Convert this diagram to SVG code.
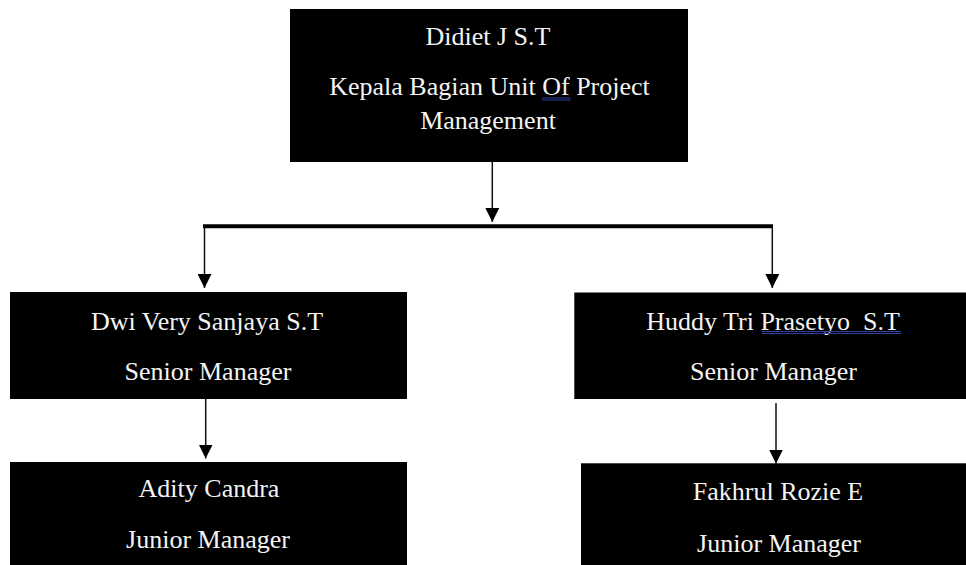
<svg xmlns="http://www.w3.org/2000/svg" width="966" height="565" viewBox="0 0 966 565">
<style>
.box{fill:#000;}
.t{font-family:"Liberation Serif","Times New Roman",serif;font-size:26px;fill:#f4f4f4;text-anchor:middle;}
.ln{stroke:#111;stroke-width:1.5;fill:none;}
.bar{stroke:#000;stroke-width:4;fill:none;}
.ul{stroke:#2f3f9f;stroke-width:1;fill:none;}
</style>
<defs>
<marker id="ah" markerUnits="userSpaceOnUse" markerWidth="14" markerHeight="14" refX="14" refY="7" orient="auto">
<path d="M0,0 L14,7 L0,14 Z" fill="#000"/>
</marker>
</defs>
<rect width="966" height="565" fill="#fff"/>
<g id="connectors">
<line class="ln" x1="492.3" y1="162" x2="492.3" y2="222" marker-end="url(#ah)"/>
<line class="bar" x1="203" y1="226.3" x2="773" y2="226.3"/>
<line class="ln" x1="204.5" y1="226" x2="204.5" y2="288" marker-end="url(#ah)"/>
<line class="ln" x1="772.3" y1="226" x2="772.3" y2="288" marker-end="url(#ah)"/>
<line class="ln" x1="205.7" y1="399" x2="205.7" y2="458.5" marker-end="url(#ah)"/>
<line class="ln" x1="776" y1="403" x2="776" y2="463.5" marker-end="url(#ah)"/>
</g>
<g id="node-didiet">
<rect class="box" x="290" y="9" width="398" height="153"/>
<text class="t" x="488" y="45">Didiet J S.T</text>
<text class="t" x="489.5" y="95">Kepala Bagian Unit Of Project</text>
<line class="ul" x1="541.7" y1="98" x2="570.7" y2="98"/>
<line class="ul" x1="541.7" y1="100" x2="570.7" y2="100"/>
<text class="t" x="488" y="129">Management</text>
</g>
<g id="node-dwi">
<rect class="box" x="10" y="292" width="397" height="107"/>
<text class="t" x="207" y="330">Dwi Very Sanjaya S.T</text>
<text class="t" x="208" y="380">Senior Manager</text>
</g>
<g id="node-huddy">
<rect class="box" x="574.3" y="292.5" width="392" height="106.5"/>
<text class="t" x="773" y="330" xml:space="preserve">Huddy Tri Prasetyo  S.T</text>
<line class="ul" x1="761.7" y1="331.5" x2="901" y2="331.5"/>
<line class="ul" x1="761.7" y1="333.5" x2="901" y2="333.5"/>
<text class="t" x="773.5" y="380">Senior Manager</text>
</g>
<g id="node-adity">
<rect class="box" x="10" y="462" width="397" height="103"/>
<text class="t" x="209" y="496.7">Adity Candra</text>
<text class="t" x="208" y="548.3">Junior Manager</text>
</g>
<g id="node-fakhrul">
<rect class="box" x="581" y="463.3" width="385" height="101.7"/>
<text class="t" x="778" y="500">Fakhrul Rozie E</text>
<text class="t" x="779" y="551.7">Junior Manager</text>
</g>
</svg>
